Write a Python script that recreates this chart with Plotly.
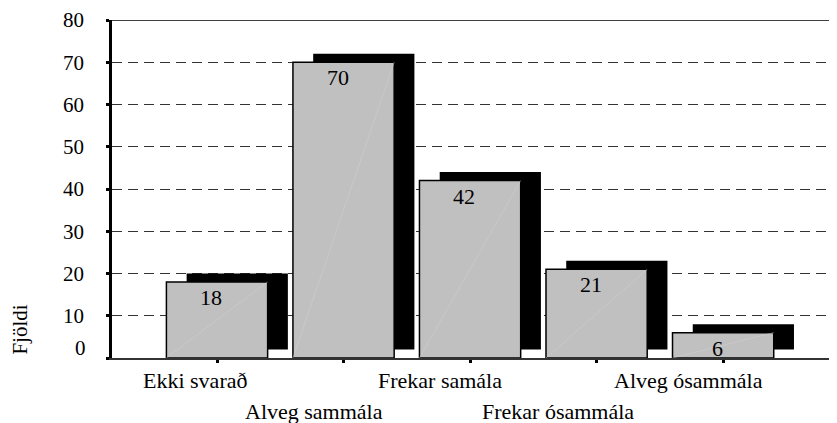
import plotly.graph_objects as go

categories = ["Ekki svarað", "Alveg sammála", "Frekar samála", "Frekar ósammála", "Alveg ósammála"]
values = [18, 70, 42, 21, 6]
y_ticks = [0, 10, 20, 30, 40, 50, 60, 70, 80]

FONT = "Times New Roman, Liberation Serif, serif"
FS = 22      # category / value labels
FS_AX = 21   # axis tick labels and title
SHADOW_DX = 0.16   # shadow offset in category units
SHADOW_DY = 2      # shadow offset in value units
BAR_W = 0.8

xs = list(range(len(categories)))

fig = go.Figure()

# shadow bars
fig.add_trace(go.Bar(
    x=[x + SHADOW_DX for x in xs], y=values, base=[SHADOW_DY] * len(values),
    width=BAR_W, marker=dict(color="black", line=dict(color="black", width=0)),
    hoverinfo="skip", showlegend=False,
))
# main bars
fig.add_trace(go.Bar(
    x=xs, y=values, width=BAR_W,
    marker=dict(color="#c0c0c0", line=dict(color="black", width=1.5)),
    showlegend=False,
))
# faint diagonal artifacts inside bars
for x, v in zip(xs, values):
    fig.add_trace(go.Scatter(
        x=[x - BAR_W / 2, x + BAR_W / 2], y=[0, v], mode="lines",
        line=dict(color="#d0d0d0", width=0.5), hoverinfo="skip", showlegend=False,
    ))

annotations = []
# value labels
for x, v in zip(xs, values):
    annotations.append(dict(
        x=x, y=v, xref="x", yref="y", text=str(v), showarrow=False,
        yanchor="top", xanchor="center", xshift=-6, yshift=-1,
        font=dict(family=FONT, size=FS, color="black"),
    ))
# staggered category labels
label_shift = [-22, -30, -30, -39, -35]
for i, (x, c) in enumerate(zip(xs, categories)):
    annotations.append(dict(
        x=x, y=0, xref="x", yref="y", text=c, showarrow=False,
        yanchor="middle", xanchor="center", xshift=label_shift[i],
        yshift=-22 if i % 2 == 0 else -53,
        font=dict(family=FONT, size=FS, color="black"),
    ))
# zero label (sits slightly above its gridline in the original)
annotations.append(dict(
    x=0, y=0, xref="paper", yref="y", text="0", showarrow=False,
    xanchor="right", yanchor="middle", xshift=-24, yshift=10,
    font=dict(family=FONT, size=FS_AX, color="black"),
))
# y-axis title
annotations.append(dict(
    x=0, y=0.084, xref="paper", yref="paper", text="Fjöldi", showarrow=False,
    textangle=-90, xanchor="center", yanchor="middle", xshift=-92,
    font=dict(family=FONT, size=FS_AX, color="black"),
))

# page body has an 8px margin, so the figure is shrunk/offset to land where the reference is
fig.update_layout(
    width=829, height=415,
    margin=dict(l=104, r=0, t=12, b=64.5, autoexpand=False),
    paper_bgcolor="white", plot_bgcolor="white",
    barmode="overlay",
    annotations=annotations,
    shapes=[dict(type="line", xref="paper", yref="y", x0=0, x1=1, y0=80, y1=80,
                 line=dict(color="black", width=1.5))],
    font=dict(family=FONT, size=FS_AX, color="black"),
)
fig.update_xaxes(
    range=[-0.83, 4.9], tickvals=xs, ticktext=[""] * len(xs),
    showgrid=False, zeroline=False, automargin=False,
    showline=True, linecolor="#333333", linewidth=1.5,
    ticks="outside", ticklen=3, tickwidth=3, tickcolor="black",
)
fig.update_yaxes(
    range=[0, 80], tickvals=y_ticks,
    ticktext=["" if t == 0 else str(t) for t in y_ticks],
    showgrid=True, gridcolor="#333333", griddash="10px,6px", gridwidth=1,
    zeroline=False, showline=True, linecolor="black", linewidth=2.5,
    ticks="outside", ticklen=3, tickwidth=3, tickcolor="black",
    ticklabelstandoff=18, automargin=False,
    tickfont=dict(family=FONT, size=FS_AX, color="black"),
)

fig.write_html("out.html")
